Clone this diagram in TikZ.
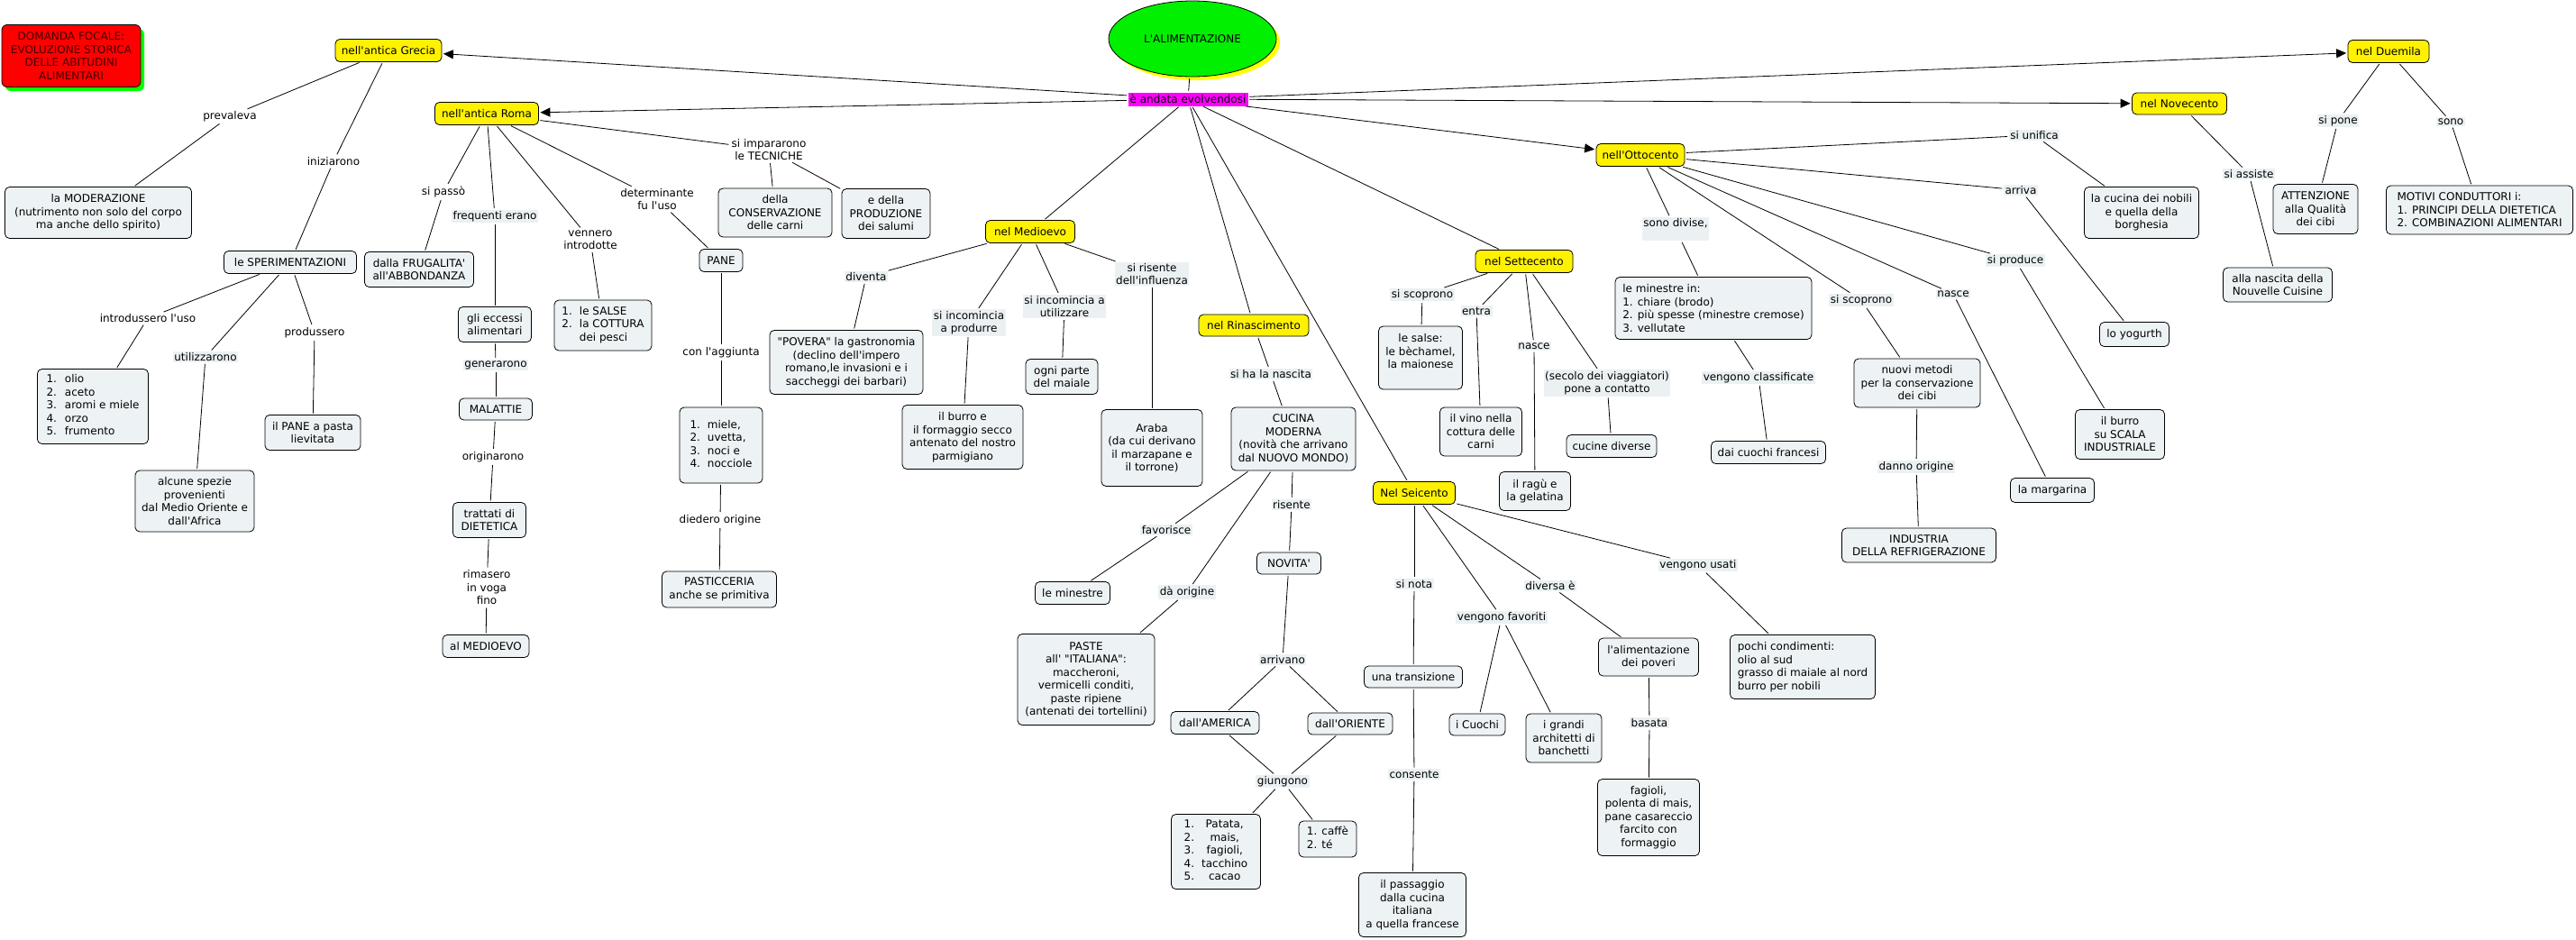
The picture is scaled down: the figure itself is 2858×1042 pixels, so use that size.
\documentclass[tikz,border=0pt]{standalone}
\usepackage{fontspec}
\newfontfamily\dv{DejaVu Sans}
\usetikzlibrary{shapes.geometric,arrows.meta}
\definecolor{boxc}{HTML}{EDF2F4}
\definecolor{lblc}{HTML}{EBF1F3}
\definecolor{ellg}{HTML}{00F000}
\definecolor{shg}{HTML}{00FF00}
\definecolor{shy}{HTML}{FFFF00}
\definecolor{mag}{HTML}{FF00FF}
\definecolor{domred}{HTML}{FF0000}
\definecolor{domtxt}{HTML}{400000}
\begin{document}
\begin{tikzpicture}[x=1pt,y=-1pt,
  font=\dv\fontsize{12}{14.5}\selectfont,
  sz/.style 2 args={minimum width=#1pt,minimum height=#2pt},
  box/.style={draw,rounded corners=5pt,fill=boxc,align=center,inner sep=2pt,line width=0.8pt},
  yel/.style={box,fill=yellow},
  lbl/.style={fill=white,align=center,inner sep=1.5pt},
  lblb/.style={fill=lblc,align=center,inner sep=1.5pt},
  ln/.style={draw,line width=0.8pt,shorten >=1.5pt,shorten <=1.5pt},
  arr/.style={ln,-{Triangle[length=11pt,width=10pt]}}]
\fill[white] (0,0) rectangle (2858,1042);
\useasboundingbox (0,0) rectangle (2858,1042);

% focal question
\fill[shg,rounded corners=6pt] (6,32) rectangle (160,101);
\node[draw,rounded corners=6pt,fill=domred,sz={154}{69},align=center,inner sep=2pt,text=domtxt,line width=0.8pt] (dom) at (79,62) {DOMANDA FOCALE:\\EVOLUZIONE STORICA\\DELLE ABITUDINI\\ALIMENTARI};

% root
\fill[shy] (1327,47) ellipse [x radius=93, y radius=42];
\node[ellipse,draw,fill=ellg,sz={186}{84},inner sep=0pt,line width=0.8pt] (alim) at (1323,43) {L'ALIMENTAZIONE};
\node[fill=mag,inner sep=1.5pt,sz={133}{15}] (evo) at (1318,110) {è andata evolvendosi};

% eras
\node[yel,sz={118}{25}] (grecia) at (431,56) {nell'antica Grecia};
\node[yel,sz={115}{25}] (roma) at (540,126) {nell'antica Roma};
\node[yel,sz={99}{25}] (medioevo) at (1143,257) {nel Medioevo};
\node[yel,sz={122}{24}] (rinasc) at (1391,361) {nel Rinascimento};
\node[yel,sz={91}{25}] (seic) at (1569,547) {Nel Seicento};
\node[yel,sz={108}{25}] (settec) at (1691,290) {nel Settecento};
\node[yel,sz={98}{25}] (ottoc) at (1820,172) {nell'Ottocento};
\node[yel,sz={105}{24}] (novec) at (2418,115) {nel Novecento};
\node[yel,sz={90}{25}] (duem) at (2650,57) {nel Duemila};

% Grecia
\node[lbl] (prev) at (255,129) {prevaleva};
\node[box,sz={207}{57}] (mod) at (109,236) {la MODERAZIONE\\(nutrimento non solo del corpo\\ma anche dello spirito)};
\node[lbl] (iniz) at (370,179) {iniziarono};
\node[box,sz={147}{25}] (sper) at (322,291) {le SPERIMENTAZIONI};
\node[lbl] (intro) at (164,353) {introdussero l'uso};
\node[lblb] (util) at (228,396) {utilizzarono};
\node[lbl] (produ) at (349,369) {produssero};
\node[box,sz={123}{83}] (olio) at (103,451) {\begin{tabular}{@{}l@{\hspace{9pt}}l@{}}1.&olio\\2.&aceto\\3.&aromi e miele\\4.&orzo\\5.&frumento\end{tabular}};
\node[box,sz={132}{68}] (spezie) at (216,556) {alcune spezie\\provenienti\\dal Medio Oriente e\\dall'Africa};
\node[box,sz={106}{39}] (panel) at (347,480) {il PANE a pasta\\lievitata};

% Roma
\node[lbl] (sipasso) at (492,213) {si passò};
\node[box,sz={121}{39}] (frug) at (465,299) {dalla FRUGALITA'\\all'ABBONDANZA};
\node[lblb] (freq) at (549,240) {frequenti erano};
\node[box,sz={81}{39}] (ecc) at (549,360) {gli eccessi\\alimentari};
\node[lblb] (gener) at (550,405) {generarono};
\node[box,sz={81}{24}] (mal) at (550,454) {MALATTIE};
\node[lbl] (orig) at (547,507) {originarono};
\node[box,sz={81}{39}] (tratt) at (543,577) {trattati di\\DIETETICA};
\node[lbl] (rimas) at (540,652) {rimasero\\in voga\\fino};
\node[box,sz={96}{25}] (medA) at (539,717) {al MEDIOEVO};
\node[lbl] (venn) at (655,266) {vennero\\introdotte};
\node[box,sz={108}{56}] (salse) at (669,361) {\begin{tabular}{@{}l@{\hspace{8pt}}l@{}}1.&le SALSE\\2.&la COTTURA\\&dei pesci\end{tabular}};
\node[lbl] (determ) at (729,221) {determinante\\fu l'uso};
\node[box,sz={48}{25}] (pane) at (800,289) {PANE};
\node[lbl] (agg) at (800,391) {con l'aggiunta};
\node[box,sz={92}{84}] (miele) at (800,494) {\begin{tabular}{@{}l@{\hspace{8pt}}l@{}}1.&miele,\\2.&uvetta,\\3.&noci e\\4.&nocciole\end{tabular}};
\node[lbl] (died) at (799,577) {diedero origine};
\node[box,sz={127}{40}] (past) at (798,654) {PASTICCERIA\\anche se primitiva};
\node[lbl] (impar) at (853,166) {si impararono\\le TECNICHE};
\node[box,sz={126}{54}] (cons) at (860,236) {della\\CONSERVAZIONE\\delle carni};
\node[box,sz={98}{55}] (prod) at (983,237) {e della\\PRODUZIONE\\dei salumi};

% Medioevo
\node[lblb] (diventa) at (961,307) {diventa};
\node[box,sz={170}{71}] (povera) at (939,402) {"POVERA" la gastronomia\\(declino dell'impero\\romano,le invasioni e i\\saccheggi dei barbari)};
\node[lblb] (prodl) at (1075,358) {si incomincia\\a produrre};
\node[box,sz={134}{71}] (burroA) at (1068,485) {il burro e\\il formaggio secco\\antenato del nostro\\parmigiano};
\node[lblb] (utill) at (1181,340) {si incomincia a\\utilizzare};
\node[box,sz={80}{39}] (maiale) at (1178,418) {ogni parte\\del maiale};
\node[lblb] (risl) at (1278,304) {si risente\\dell'influenza};
\node[box,sz={112}{85}] (araba) at (1278,497) {Araba\\(da cui derivano\\il marzapane e\\il torrone)};

% Rinascimento
\node[lblb] (nasc) at (1410,415) {si ha la nascita};
\node[box,sz={138}{70}] (cucina) at (1435,487) {CUCINA\\MODERNA\\(novità che arrivano\\dal NUOVO MONDO)};
\node[lblb] (favor) at (1294,588) {favorisce};
\node[box,sz={83}{25}] (minestre) at (1190,658) {le minestre};
\node[lblb] (daor) at (1317,657) {dà origine};
\node[box,sz={152}{101}] (paste) at (1205,754) {PASTE\\all' "ITALIANA":\\maccheroni,\\vermicelli conditi,\\paste ripiene\\(antenati dei tortellini)};
\node[lblb] (risente) at (1433,560) {risente};
\node[box,sz={71}{24}] (novita) at (1430,625) {NOVITA'};
\node[lblb] (arriv) at (1423,732) {arrivano};
\node[box,sz={98}{25}] (amer) at (1348,802) {dall'AMERICA};
\node[box,sz={94}{24}] (orie) at (1498,803) {dall'ORIENTE};
\node[lblb] (giung) at (1423,867) {giungono};
\node[box,sz={99}{83}] (patata) at (1349,945) {\begin{tabular}{@{}l@{\hspace{8pt}}c@{}}1.&Patata,\\2.&mais,\\3.&fagioli,\\4.&tacchino\\5.&cacao\end{tabular}};
\node[box,sz={64}{40}] (caffe) at (1473,931) {\begin{tabular}{@{}l@{}}1. caffè\\2. té\end{tabular}};

% Seicento
\node[lblb] (sinota) at (1569,648) {si nota};
\node[box,sz={109}{24}] (trans) at (1568,751) {una transizione};
\node[lblb] (consente) at (1569,859) {consente};
\node[box,sz={119}{71}] (passaggio) at (1567,1004) {il passaggio\\dalla cucina\\italiana\\a quella francese};
\node[lblb] (vfav) at (1666,685) {vengono favoriti};
\node[box,sz={62}{24}] (cuochi) at (1639,804) {i Cuochi};
\node[box,sz={84}{54}] (archi) at (1735,819) {i grandi\\architetti di\\banchetti};
\node[lblb] (diversa) at (1720,650) {diversa è};
\node[box,sz={111}{42}] (poveri) at (1829,729) {l'alimentazione\\dei poveri};
\node[lblb] (basata) at (1830,802) {basata};
\node[box,sz={113}{85}] (fagioli) at (1829,907) {fagioli,\\polenta di mais,\\pane casareccio\\farcito con\\formaggio};
\node[lblb] (vusati) at (1884,627) {vengono usati};
\node[box,sz={161}{71},align=left] (pochi) at (2000,740) {pochi condimenti:\\olio al sud\\grasso di maiale al nord\\burro per nobili};

% Settecento
\node[lblb] (scopA) at (1578,327) {si scoprono};
\node[box,sz={93}{70}] (salseB) at (1576,397) {le salse:\\le bèchamel,\\la maionese\\\mbox{}};
\node[lblb] (entra) at (1638,345) {entra};
\node[box,sz={91}{54}] (vino) at (1643,479) {il vino nella\\cottura delle\\carni};
\node[lblb] (nasceA) at (1702,384) {nasce};
\node[box,sz={79}{43}] (ragu) at (1703,545) {il ragù e\\la gelatina};
\node[lblb] (secolo) at (1783,425) {(secolo dei viaggiatori)\\pone a contatto};
\node[box,sz={100}{25}] (cucdiv) at (1788,495) {cucine diverse};

% Ottocento
\node[lblb] (divise) at (1859,254) {sono divise,\\\mbox{}};
\node[box,sz={218}{69},align=left] (minin) at (1901,342) {le minestre in:\\1. chiare (brodo)\\2. più spesse (minestre cremose)\\3. vellutate};
\node[lblb] (classif) at (1951,419) {vengono classificate};
\node[box,sz={127}{25}] (cuochifr) at (1962,502) {dai cuochi francesi};
\node[lblb] (scopB) at (2065,333) {si scoprono};
\node[box,sz={140}{54}] (metodi) at (2127,425) {nuovi metodi\\per la conservazione\\dei cibi};
\node[lblb] (danno) at (2126,518) {danno origine};
\node[box,sz={171}{38}] (indus) at (2129,605) {INDUSTRIA\\DELLA REFRIGERAZIONE};
\node[lblb] (nasceB) at (2167,326) {nasce};
\node[box,sz={93}{27}] (marg) at (2277,544) {la margarina};
\node[lblb] (produce) at (2236,289) {si produce};
\node[box,sz={99}{55}] (burroB) at (2352,482) {il burro\\su SCALA\\INDUSTRIALE};
\node[lblb] (arriva) at (2242,211) {arriva};
\node[box,sz={77}{27}] (yog) at (2368,371) {lo yogurth};
\node[lblb] (unifica) at (2257,150) {si unifica};
\node[box,sz={127}{57}] (nobili) at (2376,236) {la cucina dei nobili\\e quella della\\borghesia};

% Novecento / Duemila
\node[lblb] (assiste) at (2495,193) {si assiste};
\node[box,sz={121}{38}] (nouv) at (2527,316) {alla nascita della\\Nouvelle Cuisine};
\node[lblb] (pone) at (2594,134) {si pone};
\node[box,sz={94}{55}] (attn) at (2569,232) {ATTENZIONE\\alla Qualità\\dei cibi};
\node[lblb] (sono) at (2719,135) {sono};
\node[box,sz={207}{54},align=left] (motivi) at (2751,233) {MOTIVI CONDUTTORI i:\\1. PRINCIPI DELLA DIETETICA\\2. COMBINAZIONI ALIMENTARI};

% connectors
\foreach \a/\b in {alim/evo,
  grecia/prev, prev/mod, grecia/iniz, iniz/sper,
  sper/intro, intro/olio, sper/util, util/spezie, sper/produ, produ/panel,
  roma/sipasso, sipasso/frug, roma/freq, freq/ecc, ecc/gener, gener/mal, mal/orig, orig/tratt, tratt/rimas, rimas/medA,
  roma/venn, venn/salse, roma/determ, determ/pane, pane/agg, agg/miele, miele/died, died/past,
  roma/impar, impar/cons, impar/prod,
  evo/medioevo, evo/rinasc, evo/seic, evo/settec,
  medioevo/diventa, diventa/povera, medioevo/prodl, prodl/burroA, medioevo/utill, utill/maiale, medioevo/risl, risl/araba,
  rinasc/nasc, nasc/cucina, cucina/favor, favor/minestre, cucina/daor, daor/paste, cucina/risente, risente/novita,
  novita/arriv, arriv/amer, arriv/orie, amer/giung, orie/giung, giung/patata, giung/caffe,
  seic/sinota, sinota/trans, trans/consente, consente/passaggio, seic/vfav, vfav/cuochi, vfav/archi,
  seic/diversa, diversa/poveri, poveri/basata, basata/fagioli, seic/vusati, vusati/pochi,
  settec/scopA, scopA/salseB, settec/entra, entra/vino, settec/nasceA, nasceA/ragu, settec/secolo, secolo/cucdiv,
  ottoc/divise, divise/minin, minin/classif, classif/cuochifr, ottoc/scopB, scopB/metodi, metodi/danno, danno/indus,
  ottoc/nasceB, nasceB/marg, ottoc/produce, produce/burroB, ottoc/arriva, arriva/yog, ottoc/unifica, unifica/nobili,
  novec/assiste, assiste/nouv, duem/pone, pone/attn, duem/sono, sono/motivi}
  \draw[ln] (\a) -- (\b);
\foreach \b in {grecia, roma, ottoc, novec, duem}
  \draw[arr] (evo) -- (\b);
\end{tikzpicture}
\end{document}
